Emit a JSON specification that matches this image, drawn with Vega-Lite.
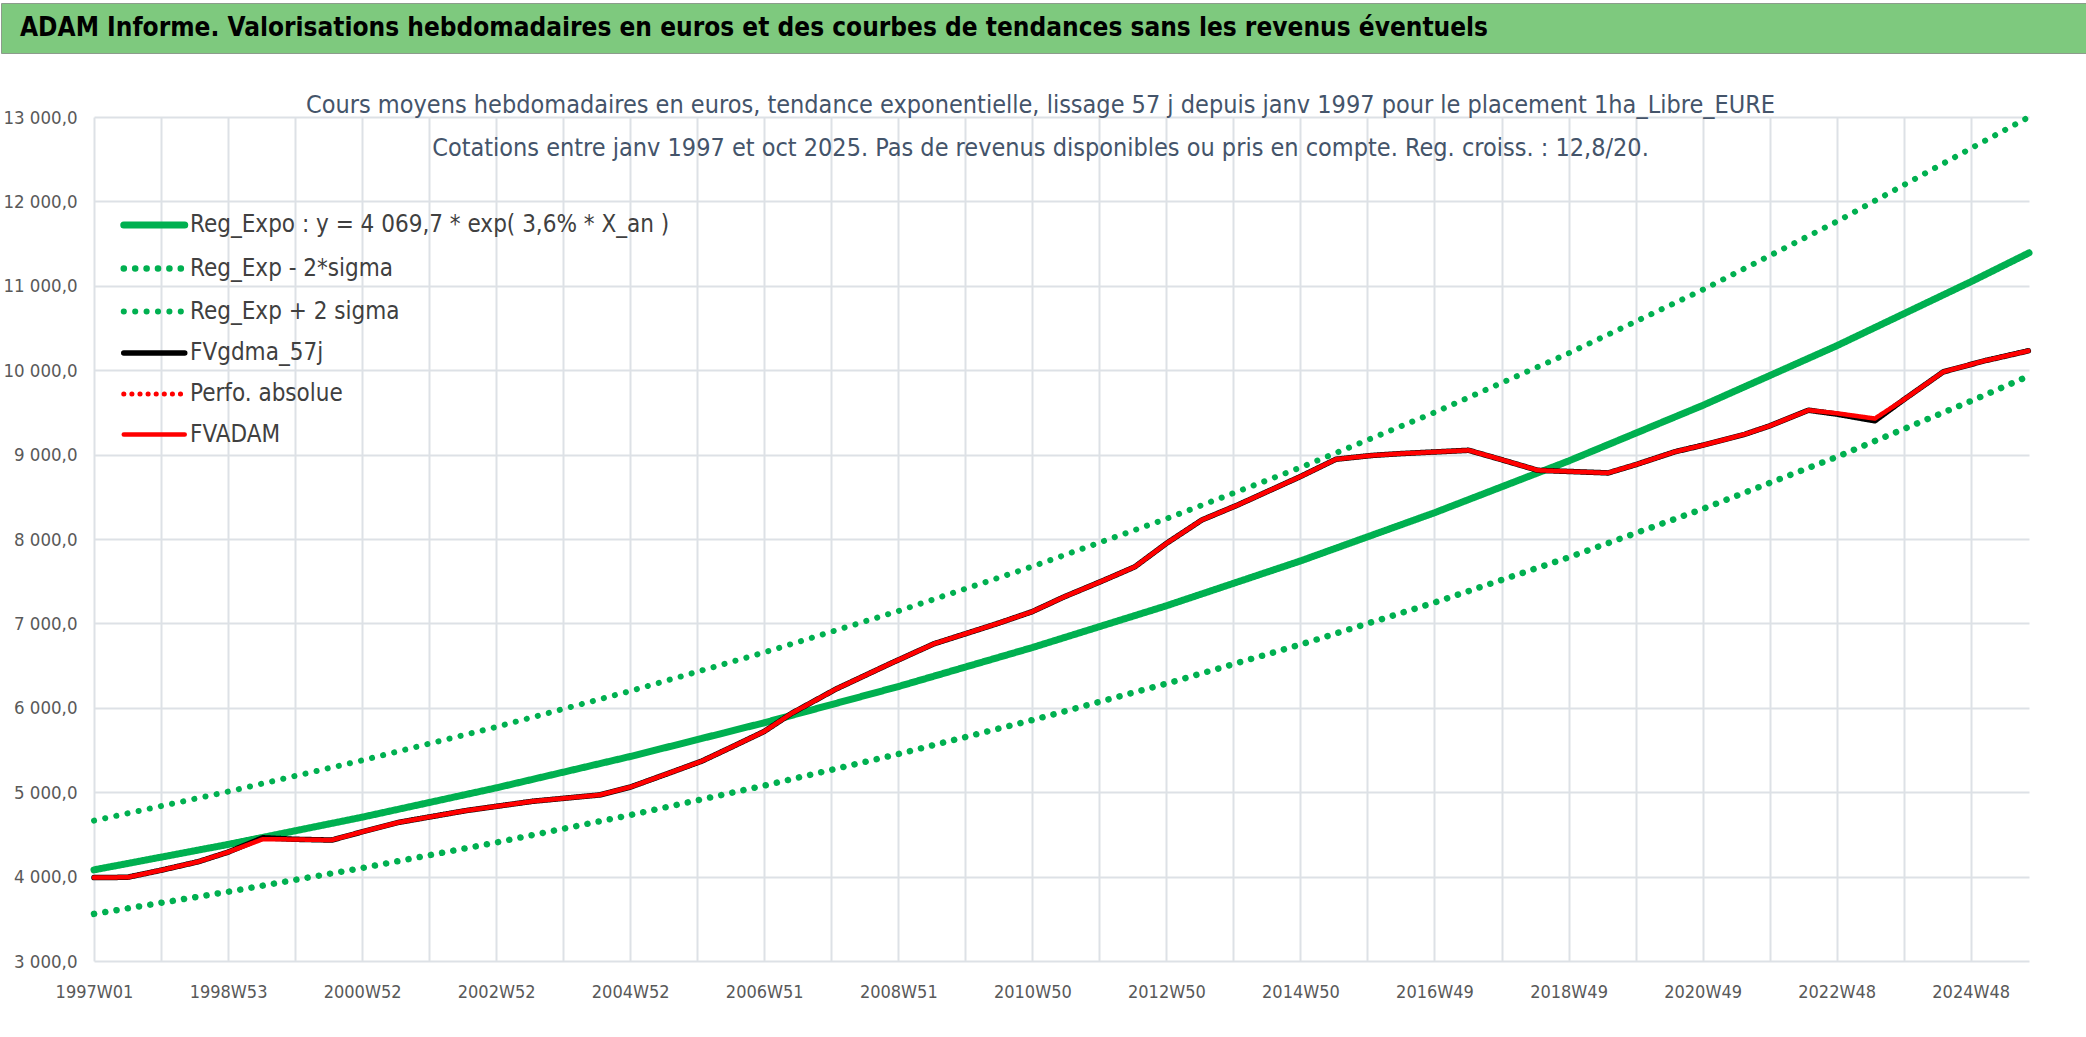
{
  "$schema": "https://vega.github.io/schema/vega-lite/v6.json",
  "background": "white",
  "padding": {"left": 0, "top": 2, "right": 0, "bottom": 0},
  "spacing": 39,
  "config": {
    "locale": {"number": {"decimal": ",", "thousands": " ", "grouping": [3], "currency": ["", " €"]}},
    "font": "DejaVu Sans Condensed, sans-serif",
    "view": {"stroke": null},
    "axis": {"gridColor": "#dde1e6", "gridWidth": 2, "ticks": false, "domain": false, "labelColor": "#595959", "labelFontSize": 18, "title": null}
  },
  "vconcat": [
    {
      "width": 2086,
      "height": 50,
      "view": {"fill": "#7ec97e", "stroke": "#8c9c8c", "strokeWidth": 1},
      "title": {
        "text": "ADAM Informe. Valorisations hebdomadaires en euros et des courbes de tendances sans les revenus éventuels",
        "anchor": "start", "frame": "group", "orient": "bottom", "offset": -38,
        "dx": 19, "fontSize": 26, "fontWeight": "bold", "color": "#000000", "baseline": "top"
      },
      "data": {"values": []},
      "mark": "text",
      "encoding": {}
    },
    {
      "spacing": 0,
      "hconcat": [
        {
          "width": 1,
          "height": 1,
          "data": {"values": []},
          "mark": "text",
          "encoding": {}
        },
        {
          "width": 1935,
          "height": 844,
          "title": {
            "text": [
              "Cours moyens hebdomadaires en euros, tendance exponentielle, lissage 57 j depuis janv 1997 pour le placement 1ha_Libre_EURE",
              "Cotations entre janv 1997 et oct 2025. Pas de revenus disponibles ou pris en compte. Reg. croiss. : 12,8/20."
            ],
            "anchor": "middle", "frame": "group", "orient": "top", "offset": -53, "dx": -21,
            "fontSize": 25, "fontWeight": "normal", "color": "#44546a", "lineHeight": 43
          },
          "data": {
            "values": [
              {"s": "reg", "t": 0, "v": 4080}, {"s": "reg", "t": 2, "v": 4381}, {"s": "reg", "t": 4, "v": 4704},
              {"s": "reg", "t": 6, "v": 5051}, {"s": "reg", "t": 8, "v": 5423}, {"s": "reg", "t": 10, "v": 5823},
              {"s": "reg", "t": 12, "v": 6252}, {"s": "reg", "t": 14, "v": 6714}, {"s": "reg", "t": 16, "v": 7209},
              {"s": "reg", "t": 18, "v": 7740}, {"s": "reg", "t": 20, "v": 8311}, {"s": "reg", "t": 22, "v": 8924},
              {"s": "reg", "t": 24, "v": 9582}, {"s": "reg", "t": 26, "v": 10289}, {"s": "reg", "t": 28, "v": 11047},
              {"s": "reg", "t": 28.87, "v": 11390},
              {"s": "lo", "t": 0, "v": 3558}, {"s": "lo", "t": 2, "v": 3820}, {"s": "lo", "t": 4, "v": 4102},
              {"s": "lo", "t": 6, "v": 4404}, {"s": "lo", "t": 8, "v": 4729}, {"s": "lo", "t": 10, "v": 5078},
              {"s": "lo", "t": 12, "v": 5452}, {"s": "lo", "t": 14, "v": 5855}, {"s": "lo", "t": 16, "v": 6286},
              {"s": "lo", "t": 18, "v": 6749}, {"s": "lo", "t": 20, "v": 7247}, {"s": "lo", "t": 22, "v": 7782},
              {"s": "lo", "t": 24, "v": 8356}, {"s": "lo", "t": 26, "v": 8972}, {"s": "lo", "t": 28, "v": 9633},
              {"s": "lo", "t": 28.87, "v": 9932},
              {"s": "hi", "t": 0, "v": 4663}, {"s": "hi", "t": 2, "v": 5007}, {"s": "hi", "t": 4, "v": 5377},
              {"s": "hi", "t": 6, "v": 5773}, {"s": "hi", "t": 8, "v": 6198}, {"s": "hi", "t": 10, "v": 6656},
              {"s": "hi", "t": 12, "v": 7146}, {"s": "hi", "t": 14, "v": 7674}, {"s": "hi", "t": 16, "v": 8240},
              {"s": "hi", "t": 18, "v": 8847}, {"s": "hi", "t": 20, "v": 9499}, {"s": "hi", "t": 22, "v": 10200},
              {"s": "hi", "t": 24, "v": 10952}, {"s": "hi", "t": 26, "v": 11760}, {"s": "hi", "t": 28, "v": 12627},
              {"s": "hi", "t": 28.87, "v": 13000},
              {"s": "gdma", "t": 0, "v": 3988}, {"s": "gdma", "t": 0.5, "v": 3992}, {"s": "gdma", "t": 1.0, "v": 4075},
              {"s": "gdma", "t": 1.55, "v": 4175}, {"s": "gdma", "t": 2.0, "v": 4290}, {"s": "gdma", "t": 2.52, "v": 4460},
              {"s": "gdma", "t": 3.0, "v": 4442}, {"s": "gdma", "t": 3.55, "v": 4433}, {"s": "gdma", "t": 4.0, "v": 4530},
              {"s": "gdma", "t": 4.55, "v": 4643}, {"s": "gdma", "t": 5.55, "v": 4782}, {"s": "gdma", "t": 6.55, "v": 4893},
              {"s": "gdma", "t": 7.55, "v": 4968}, {"s": "gdma", "t": 8.0, "v": 5060}, {"s": "gdma", "t": 8.55, "v": 5218},
              {"s": "gdma", "t": 9.07, "v": 5369}, {"s": "gdma", "t": 9.5, "v": 5530}, {"s": "gdma", "t": 10.0, "v": 5720},
              {"s": "gdma", "t": 10.41, "v": 5935}, {"s": "gdma", "t": 11.07, "v": 6222}, {"s": "gdma", "t": 11.87, "v": 6520},
              {"s": "gdma", "t": 12.53, "v": 6758}, {"s": "gdma", "t": 13.47, "v": 6996}, {"s": "gdma", "t": 14.0, "v": 7140},
              {"s": "gdma", "t": 14.47, "v": 7313}, {"s": "gdma", "t": 15.07, "v": 7512}, {"s": "gdma", "t": 15.53, "v": 7671},
              {"s": "gdma", "t": 16.0, "v": 7948}, {"s": "gdma", "t": 16.53, "v": 8226}, {"s": "gdma", "t": 17.07, "v": 8405},
              {"s": "gdma", "t": 17.73, "v": 8643}, {"s": "gdma", "t": 18.0, "v": 8740}, {"s": "gdma", "t": 18.53, "v": 8945},
              {"s": "gdma", "t": 19.07, "v": 8990}, {"s": "gdma", "t": 19.5, "v": 9012}, {"s": "gdma", "t": 20.51, "v": 9051},
              {"s": "gdma", "t": 21.0, "v": 8940}, {"s": "gdma", "t": 21.54, "v": 8814}, {"s": "gdma", "t": 22.59, "v": 8783},
              {"s": "gdma", "t": 23.0, "v": 8880}, {"s": "gdma", "t": 23.58, "v": 9032}, {"s": "gdma", "t": 24.0, "v": 9110},
              {"s": "gdma", "t": 24.63, "v": 9241}, {"s": "gdma", "t": 25.0, "v": 9340}, {"s": "gdma", "t": 25.58, "v": 9526},
              {"s": "gdma", "t": 26.0, "v": 9480}, {"s": "gdma", "t": 26.57, "v": 9400}, {"s": "gdma", "t": 27.0, "v": 9650},
              {"s": "gdma", "t": 27.59, "v": 9980}, {"s": "gdma", "t": 28.2, "v": 10110}, {"s": "gdma", "t": 28.86, "v": 10229},
              {"s": "adam", "t": 0, "v": 3988}, {"s": "adam", "t": 0.5, "v": 3992}, {"s": "adam", "t": 1.0, "v": 4075},
              {"s": "adam", "t": 1.55, "v": 4175}, {"s": "adam", "t": 2.0, "v": 4290}, {"s": "adam", "t": 2.52, "v": 4444},
              {"s": "adam", "t": 3.0, "v": 4440}, {"s": "adam", "t": 3.55, "v": 4433}, {"s": "adam", "t": 4.0, "v": 4530},
              {"s": "adam", "t": 4.55, "v": 4643}, {"s": "adam", "t": 5.55, "v": 4782}, {"s": "adam", "t": 6.55, "v": 4893},
              {"s": "adam", "t": 7.55, "v": 4968}, {"s": "adam", "t": 8.0, "v": 5060}, {"s": "adam", "t": 8.55, "v": 5218},
              {"s": "adam", "t": 9.07, "v": 5369}, {"s": "adam", "t": 9.5, "v": 5530}, {"s": "adam", "t": 10.0, "v": 5720},
              {"s": "adam", "t": 10.41, "v": 5935}, {"s": "adam", "t": 11.07, "v": 6222}, {"s": "adam", "t": 11.87, "v": 6520},
              {"s": "adam", "t": 12.53, "v": 6758}, {"s": "adam", "t": 13.47, "v": 6996}, {"s": "adam", "t": 14.0, "v": 7140},
              {"s": "adam", "t": 14.47, "v": 7313}, {"s": "adam", "t": 15.07, "v": 7512}, {"s": "adam", "t": 15.53, "v": 7671},
              {"s": "adam", "t": 16.0, "v": 7948}, {"s": "adam", "t": 16.53, "v": 8226}, {"s": "adam", "t": 17.07, "v": 8405},
              {"s": "adam", "t": 17.73, "v": 8643}, {"s": "adam", "t": 18.0, "v": 8740}, {"s": "adam", "t": 18.53, "v": 8945},
              {"s": "adam", "t": 19.07, "v": 8990}, {"s": "adam", "t": 19.5, "v": 9012}, {"s": "adam", "t": 20.51, "v": 9051},
              {"s": "adam", "t": 21.0, "v": 8940}, {"s": "adam", "t": 21.54, "v": 8814}, {"s": "adam", "t": 22.59, "v": 8783},
              {"s": "adam", "t": 23.0, "v": 8880}, {"s": "adam", "t": 23.58, "v": 9032}, {"s": "adam", "t": 24.0, "v": 9110},
              {"s": "adam", "t": 24.63, "v": 9241}, {"s": "adam", "t": 25.0, "v": 9340}, {"s": "adam", "t": 25.58, "v": 9526},
              {"s": "adam", "t": 26.0, "v": 9490}, {"s": "adam", "t": 26.57, "v": 9427}, {"s": "adam", "t": 27.0, "v": 9650},
              {"s": "adam", "t": 27.59, "v": 9980}, {"s": "adam", "t": 28.2, "v": 10110}, {"s": "adam", "t": 28.86, "v": 10229}
            ]
          },
          "encoding": {
            "x": {
              "field": "t", "type": "quantitative",
              "scale": {"domain": [0, 28.87], "nice": false, "zero": false},
              "axis": {
                "values": [0, 1, 2, 3, 4, 5, 6, 7, 8, 9, 10, 11, 12, 13, 14, 15, 16, 17, 18, 19, 20, 21, 22, 23, 24, 25, 26, 27, 28],
                "labelExpr": "datum.value % 2 == 0 ? ['1997W01','1998W53','2000W52','2002W52','2004W52','2006W51','2008W51','2010W50','2012W50','2014W50','2016W49','2018W49','2020W49','2022W48','2024W48'][datum.value / 2] : ''",
                "labelOverlap": false, "labelFlush": false, "labelBound": false, "labelPadding": 22, "labelFontSize": 18
              }
            },
            "y": {
              "field": "v", "type": "quantitative",
              "scale": {"domain": [3000, 13000], "nice": false, "zero": false},
              "axis": {
                "values": [3000, 4000, 5000, 6000, 7000, 8000, 9000, 10000, 11000, 12000, 13000],
                "format": ",.1f", "labelPadding": 17, "minExtent": 92, "maxExtent": 92, "labelFontSize": 18.5
              }
            },
            "color": {
              "field": "s", "type": "nominal",
              "scale": {
                "domain": ["reg", "lo", "hi", "gdma", "perfo", "adam"],
                "range": ["#00b050", "#00b050", "#00b050", "#000000", "#ff0000", "#ff0000"]
              },
              "legend": {
                "title": null, "orient": "none", "legendX": 119, "legendY": 203, "padding": 0,
                "symbolType": "M-1,0H3", "symbolSize": 930, "labelFontSize": 24, "labelColor": "#404040",
                "labelOffset": 32, "rowPadding": 11, "labelLimit": 1000,
                "labelExpr": "{'reg': 'Reg_Expo : y = 4 069,7 * exp( 3,6% *  X_an )', 'lo': 'Reg_Exp - 2*sigma', 'hi': 'Reg_Exp + 2 sigma', 'gdma': 'FVgdma_57j', 'perfo': 'Perfo. absolue', 'adam': 'FVADAM'}[datum.value]",
                "encode": {"symbols": {"update": {"strokeCap": {"value": "round"}, "fill": {"value": "transparent"}}}}
              }
            },
            "strokeDash": {
              "field": "s", "type": "nominal",
              "scale": {
                "domain": ["reg", "lo", "hi", "gdma", "perfo", "adam"],
                "range": [[1, 0], [0.1, 11.3], [0.1, 11.3], [1, 0], [0.1, 8], [1, 0]]
              },
              "legend": null
            },
            "strokeWidth": {
              "field": "s", "type": "nominal",
              "scale": {
                "domain": ["reg", "lo", "hi", "gdma", "perfo", "adam"],
                "range": [7, 4.5, 4.5, 6, 3.5, 7]
              },
              "legend": null
            }
          },
          "layer": [
            {
              "transform": [{"filter": "datum.s != 'adam'"}],
              "mark": {"type": "line", "strokeCap": "round", "strokeJoin": "round"}
            },
            {
              "transform": [{"filter": "datum.s == 'adam'"}],
              "mark": {"type": "line", "strokeCap": "round", "strokeJoin": "round"}
            }
          ]
        }
      ]
    }
  ]
}
